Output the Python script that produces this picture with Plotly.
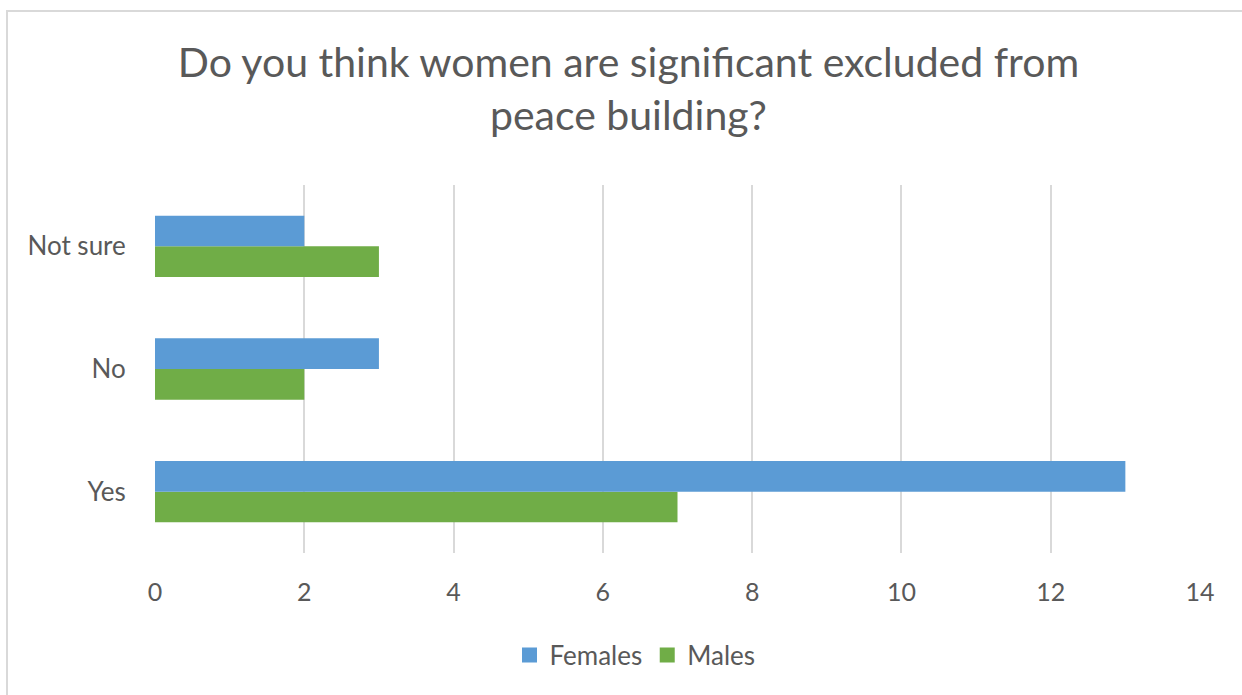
import plotly.graph_objects as go

categories = ["Yes", "No", "Not sure"]
females = [13, 3, 2]
males = [7, 2, 3]
x_ticks = [0, 2, 4, 6, 8, 10, 12, 14]

TEXT = "#595959"
FONT = "Lato"
COLORS = {"Females": "#5B9BD5", "Males": "#70AD47"}

fig = go.Figure()
# Males added first so that Females sits on top within each group
fig.add_trace(go.Bar(y=categories, x=males, orientation="h", name="Males",
                     showlegend=False, legendgroup="Males",
                     marker=dict(color=COLORS["Males"], line=dict(width=0))))
fig.add_trace(go.Bar(y=categories, x=females, orientation="h", name="Females",
                     showlegend=False, legendgroup="Females",
                     marker=dict(color=COLORS["Females"], line=dict(width=0))))
# Legend entries with larger square swatches
for name in ["Females", "Males"]:
    fig.add_trace(go.Scatter(x=[None], y=[None], mode="markers", name=name,
                             legendgroup=name,
                             marker=dict(symbol="square", size=15,
                                         color=COLORS[name])))

L, R, T, B = 155, 42, 185, 142
W, H = 1242, 695
pw, ph = W - L - R, H - T - B

def px_x(p):
    return (p - L) / pw

def px_y(p):
    return (H - B - p) / ph

fig.update_layout(
    width=W, height=H,
    margin=dict(l=L, r=R, t=T, b=B),
    paper_bgcolor="white", plot_bgcolor="white",
    barmode="group", bargap=0.5, bargroupgap=0,
    font=dict(family=FONT, color=TEXT, size=25),
    title=dict(text="Do you think women are significant excluded from<br>peace building?",
               x=0.506, xanchor="center", y=1 - 77 / H, yanchor="top",
               font=dict(family=FONT, size=41, color=TEXT)),
    xaxis=dict(range=[0, 14], tickvals=x_ticks, showgrid=True, gridcolor="#D9D9D9",
               gridwidth=1.5, zeroline=False, showline=False,
               ticks="outside", ticklen=17, tickcolor="rgba(0,0,0,0)",
               tickfont=dict(size=25, color=TEXT)),
    yaxis=dict(showgrid=False, zeroline=False, showline=False,
               categoryorder="array", categoryarray=categories,
               ticks="outside", ticklen=23, tickcolor="rgba(0,0,0,0)",
               tickfont=dict(size=26, color=TEXT)),
    legend=dict(orientation="h", x=px_x(635), xanchor="center", y=px_y(655),
                yanchor="middle", itemwidth=30,
                font=dict(size=26, color=TEXT)),
    shapes=[dict(type="rect", xref="paper", yref="paper",
                 x0=px_x(7), x1=px_x(1260), y0=px_y(720), y1=px_y(11),
                 line=dict(color="#D9D9D9", width=2), layer="below")],
)

fig.write_html("out.html")
